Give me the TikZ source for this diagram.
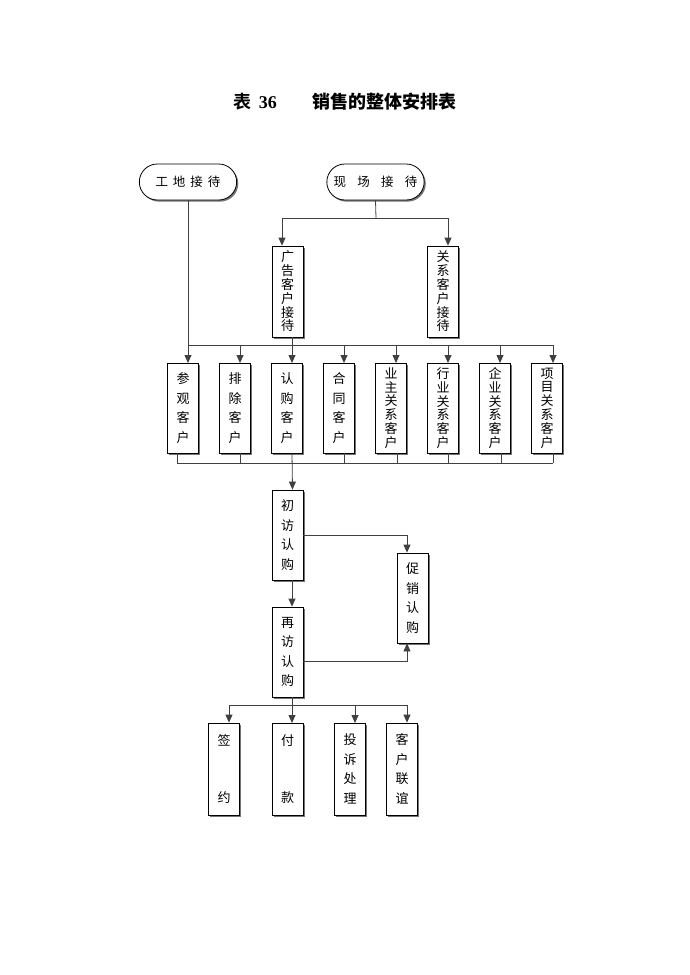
\documentclass[tikz,border=0pt]{standalone}
\usepackage{fontspec}
\setmainfont{Noto Sans CJK SC}
\newfontfamily\titlecjk{Noto Sans CJK SC Bold}
\newfontfamily\titlenum{Liberation Serif}
\usetikzlibrary{shapes.misc,shadows,arrows.meta,calc}
\tikzset{
  vbox/.style={draw=black, fill=white, line width=0.8pt, minimum width=31pt, minimum height=90pt, inner sep=0pt,
    drop shadow={shadow xshift=1.6pt, shadow yshift=-1.6pt, fill=black!55, opacity=1},
    align=center, font=\fontsize{13}{19.5}\selectfont, anchor=center},
  tight/.style={font=\fontsize{13}{13.8}\selectfont},
  oval/.style={draw=black, fill=white, line width=0.8pt, rounded rectangle, minimum width=104pt, minimum height=36pt,
    drop shadow={shadow xshift=1.6pt, shadow yshift=-1.6pt, fill=black!55, opacity=1},
    font=\fontsize{12.5}{14}\selectfont},
  ln/.style={draw=black!75, line width=0.8pt},
  arr/.style={ln, -{Triangle[length=8pt,width=7pt]}}
}
\begin{document}
\begin{tikzpicture}[x=1pt,y=-1pt]
\useasboundingbox[fill=white] (0,0) rectangle (690,975);
\node (title) at (345,102) {\fontsize{18}{20}\selectfont\titlecjk 表\,\titlenum\bfseries\ 36\hspace{2.0em}\titlecjk 销售的整体安排表};
% top ovals
\node[oval] (o1) at (188,182) {工\hspace{0.4em}地\hspace{0.4em}接\hspace{0.4em}待};
\node[oval] (o2) at (375.5,182) {现\hspace{0.9em}场\hspace{0.9em}接\hspace{0.9em}待};
% reception boxes
\node[vbox, minimum height=91pt, tight] (gg) at (287.5,291.5) {广\\告\\客\\户\\接\\待};
\node[vbox, minimum height=91pt, tight] (gx) at (443,291.5) {关\\系\\客\\户\\接\\待};
% customer boxes
\node[vbox] (c1) at (183,408) {参\\观\\客\\户};
\node[vbox] (c2) at (235,408) {排\\除\\客\\户};
\node[vbox] (c3) at (287,408) {认\\购\\客\\户};
\node[vbox] (c4) at (339,408) {合\\同\\客\\户};
\node[vbox, tight] (c5) at (391,408) {业\\主\\关\\系\\客\\户};
\node[vbox, tight] (c6) at (443,408) {行\\业\\关\\系\\客\\户};
\node[vbox, tight] (c7) at (495,408) {企\\业\\关\\系\\客\\户};
\node[vbox, tight] (c8) at (547,408) {项\\目\\关\\系\\客\\户};
% purchase boxes
\node[vbox] (cf) at (287.5,535) {初\\访\\认\\购};
\node[vbox] (zf) at (287.5,652) {再\\访\\认\\购};
\node[vbox] (cx) at (412.5,598) {促\\销\\认\\购};
% final boxes
\node[vbox, minimum height=92pt] (qy) at (224,769) {签\\[38pt]约};
\node[vbox, minimum height=92pt] (fk) at (287.5,769) {付\\[38pt]款};
\node[vbox, minimum height=92pt] (ts) at (350,769) {投\\诉\\处\\理};
\node[vbox, minimum height=92pt] (ly) at (402,769) {客\\户\\联\\谊};
% coordinates
\coordinate (b0) at (188,345);
\coordinate (b1) at (553,345);
\coordinate (t0) at (376,218);
\coordinate (t1) at (282,218);
\coordinate (t2) at (448,218);
\coordinate (m0) at (177,463);
\coordinate (m1) at (553,463);
\coordinate (f0) at (229,705);
\coordinate (f1) at (407,705);
% top connectors
\draw[ln] (o1.south) -- (b0) -- (b1);
\draw[ln] (o2.south) -- (t0);
\draw[ln] (t1) -- (t2);
\draw[arr] (t1) -- (t1 |- gg.north);
\draw[arr] (t2) -- (t2 |- gx.north);
\draw[ln] ([xshift=4.5pt]gg.south) -- ([xshift=4.5pt]gg.south |- b0);
\foreach \i/\x in {1/188,2/240,3/292,4/344,5/396,6/448,7/500,8/553}{
  \draw[arr] (\x,345) -- (\x,363);
}
% lower bus
\draw[ln] (m0) -- (m1);
\foreach \x in {177,240,344,397,448,501,553}{
  \draw[ln] (\x,453) -- (\x,463);
}
\draw[arr] ([xshift=5pt]c3.south) -- ([xshift=5pt]cf.north);
% purchase flow
\draw[arr] ([xshift=4.5pt]cf.south) -- ([xshift=4.5pt]zf.north);
\draw[arr] (cf.east |- 0,535) -| ([xshift=-5.5pt]cx.north);
\draw[arr] (zf.east |- 0,661) -| ([xshift=-5.5pt]cx.south);
% final
\draw[ln] ([xshift=4.5pt]zf.south) -- ([xshift=4.5pt]zf.south |- f0);
\draw[ln] (f0) -- (f1);
\draw[arr] (f0) -- (f0 |- qy.north);
\draw[arr] (292,705) -- (292,723);
\draw[arr] (355,705) -- (355,723);
\draw[arr] (f1) -- (f1 |- ly.north);
\end{tikzpicture}
\end{document}
